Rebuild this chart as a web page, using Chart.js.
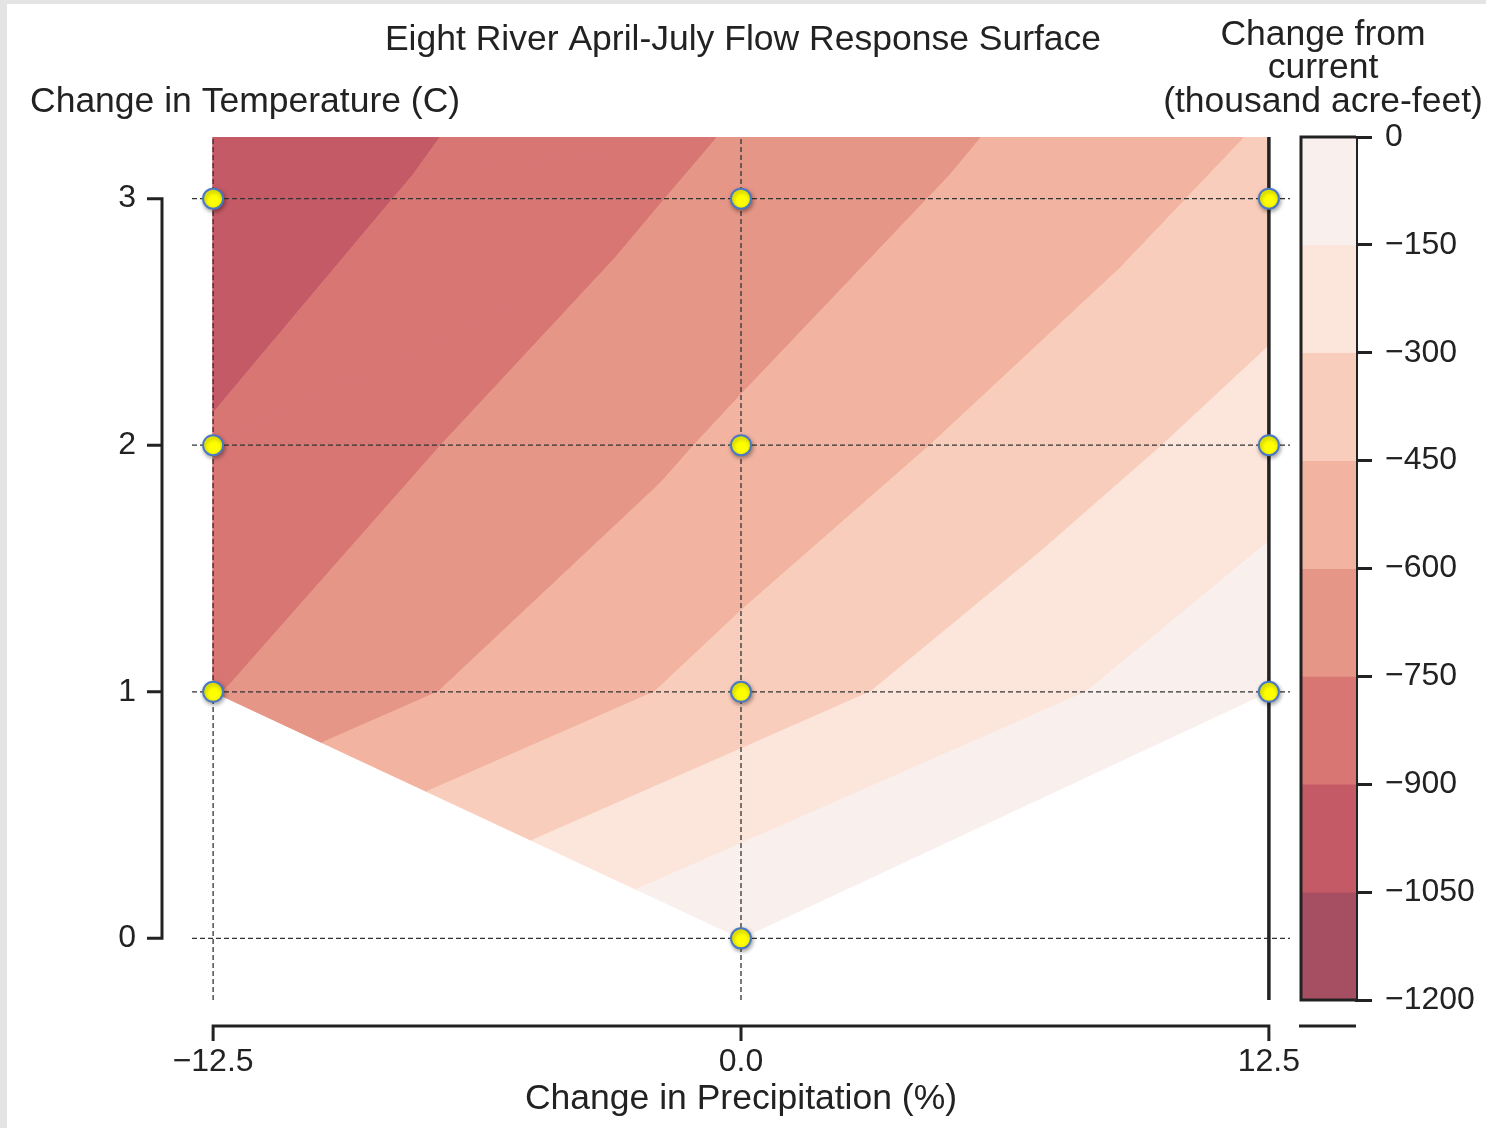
<!DOCTYPE html>
<html>
<head>
<meta charset="utf-8">
<title>Eight River April-July Flow Response Surface</title>
<script src="https://cdn.jsdelivr.net/npm/chart.js@4.4.1/dist/chart.umd.min.js"></script>
<style>
  html, body { margin: 0; padding: 0; background: #ffffff; }
  #wrap { position: relative; width: 1486px; height: 1128px; overflow: hidden; background: #ffffff; }
  #wrap canvas { position: absolute; left: 0; top: 0; }
  .frameL { position: absolute; left: 0; top: 0; width: 7px; height: 1128px; background: #e4e4e4; }
  .frameT { position: absolute; left: 0; top: 0; width: 1486px; height: 4px; background: #e4e4e4; }
</style>
</head>
<body>
<div id="wrap">
  <canvas id="main" width="1486" height="1128"></canvas>
  <canvas id="cbar" width="1486" height="1128"></canvas>
  <div class="frameL"></div>
  <div class="frameT"></div>
</div>
<script>
// ---------------- data ----------------
const chartTitle = 'Eight River April-July Flow Response Surface';
const xTitle = 'Change in Precipitation (%)';
const yTitle = 'Change in Temperature (C)';
const cbarTitle = ['Change from', 'current', '(thousand acre-feet)'];

const precipPct = [-12.5, 0, 12.5];          // x categories (tick labels)
const tempC = [0, 1, 2, 3];                  // y categories (tick labels)

// change in April-July flow (thousand acre-feet) at each precipitation level
const flowAt0C = [null, 0, null];
const flowAt1C = [-756, -390, -23];
const flowAt2C = [-885, -572, -231];
const flowAt3C = [-999, -708, -402];
// surface values read along the upper edge of the plotted surface
const topEdgeTemp = 3.25;
const flowAtTopEdge = [-1023, -737, -436];

const levels = [0, -150, -300, -450, -600, -750, -900, -1050, -1200];   // contour levels / colorbar ticks
const bandColors = ['#f9f0ee', '#fce5db', '#f9cdbb', '#f2b4a0', '#e69686', '#d87674', '#c55a67', '#a64f62'];

const xRange = [-13, 13];
const yRange = [-0.25, 3.25];

// ---------------- style ----------------
const FONT = "'Liberation Sans', Arial, Helvetica, sans-serif";
const TEXT = '#222222';
const AXIS = '#222222';
const fmtNum = v => (v < 0 ? '\u2212' + Math.abs(v) : String(v));
const fmtX = v => (v < 0 ? '\u2212' + Math.abs(v).toFixed(1) : Number(v).toFixed(1));

// ---------------- triangulated filled contours ----------------
const pt = (x, y, z) => ({ x, y, z });
const origin = pt(precipPct[1], tempC[0], flowAt0C[1]);
const rowDefs = [
  { t: tempC[1], v: flowAt1C },
  { t: tempC[2], v: flowAt2C },
  { t: tempC[3], v: flowAt3C },
  { t: topEdgeTemp, v: flowAtTopEdge }
];
const rows = rowDefs.map(r => precipPct.map((p, j) => pt(p, r.t, r.v[j])));
const tris = [];
for (let j = 0; j < precipPct.length - 1; j++) tris.push([origin, rows[0][j], rows[0][j + 1]]);
for (let r = 0; r < rows.length - 1; r++) {
  for (let j = 0; j < precipPct.length - 1; j++) {
    const a = rows[r][j], b = rows[r][j + 1], c = rows[r + 1][j + 1], d = rows[r + 1][j];
    tris.push([a, b, c], [a, c, d]);
  }
}
function clipPoly(poly, f) {
  const out = [];
  for (let i = 0; i < poly.length; i++) {
    const a = poly[i], b = poly[(i + 1) % poly.length];
    const fa = f(a), fb = f(b);
    if (fa >= 0) out.push(a);
    if ((fa >= 0) !== (fb >= 0)) {
      const t = fa / (fa - fb);
      out.push(pt(a.x + t * (b.x - a.x), a.y + t * (b.y - a.y), a.z + t * (b.z - a.z)));
    }
  }
  return out;
}

const datasets = [];

// markers (top-most)
const markerData = [];
[flowAt0C, flowAt1C, flowAt2C, flowAt3C].forEach((row, i) => {
  row.forEach((v, j) => { if (v !== null) markerData.push({ x: precipPct[j], y: tempC[i] }); });
});
datasets.push({
  id: 'markers', type: 'line', data: markerData, showLine: false,
  pointRadius: 10, pointHoverRadius: 10, pointBackgroundColor: '#ffff00',
  pointBorderColor: '#4a78c2', pointBorderWidth: 2, order: 1
});

// dashed reference lines
precipPct.forEach((p, j) => {
  const last = j === precipPct.length - 1;
  datasets.push({
    type: 'line', data: [{ x: p, y: yRange[0] }, { x: p, y: yRange[1] }],
    borderColor: last ? '#222222' : '#333333', borderWidth: last ? 3.5 : 1.3,
    borderDash: last ? [] : [5, 3], pointRadius: 0, fill: false, order: 2
  });
});
tempC.forEach(t => {
  datasets.push({
    type: 'line', data: [{ x: xRange[0], y: t }, { x: xRange[1], y: t }],
    borderColor: '#333333', borderWidth: 1.3, borderDash: [5, 3],
    pointRadius: 0, fill: false, order: 2
  });
});

// filled bands
levels.slice(0, -1).forEach((hi, i) => {
  const lo = levels[i + 1];
  tris.forEach(tri => {
    let poly = clipPoly(tri, q => q.z - lo);
    if (poly.length) poly = clipPoly(poly, q => hi - q.z);
    if (poly.length >= 3) {
      datasets.push({
        type: 'line', data: poly.concat([poly[0]]).map(q => ({ x: q.x, y: q.y })),
        backgroundColor: bandColors[i], borderColor: bandColors[i], borderWidth: 1,
        pointRadius: 0, fill: 'shape', tension: 0, order: 3
      });
    }
  });
});

// ---------------- plugins ----------------
const shadowPlugin = {
  id: 'markerShadow',
  beforeDatasetDraw(chart, args) {
    if (chart.data.datasets[args.index].id === 'markers') {
      const ctx = chart.ctx;
      ctx.save();
      ctx.shadowColor = 'rgba(0,0,0,0.35)';
      ctx.shadowBlur = 4;
      ctx.shadowOffsetX = 1;
      ctx.shadowOffsetY = 2;
    }
  },
  afterDatasetDraw(chart, args) {
    if (chart.data.datasets[args.index].id === 'markers') chart.ctx.restore();
  }
};

const spinePlugin = {
  id: 'spines',
  afterDraw(chart) {
    const { ctx, chartArea, scales: { x, y } } = chart;
    ctx.save();
    ctx.strokeStyle = AXIS;
    ctx.lineWidth = 3;
    ctx.lineCap = 'butt';
    // left spine (offset, trimmed)
    const sx = chartArea.left - 30;
    const yTop = y.getPixelForValue(tempC[tempC.length - 1]);
    const yBot = y.getPixelForValue(tempC[0]);
    ctx.beginPath();
    ctx.moveTo(sx, yTop - 1.5); ctx.lineTo(sx, yBot + 1.5);
    tempC.forEach(t => { const py = y.getPixelForValue(t); ctx.moveTo(sx, py); ctx.lineTo(sx - 15, py); });
    ctx.stroke();
    // bottom spine (offset, trimmed)
    const sy = chartArea.bottom + 26;
    const xL = x.getPixelForValue(precipPct[0]);
    const xR = x.getPixelForValue(precipPct[precipPct.length - 1]);
    ctx.beginPath();
    ctx.moveTo(xL - 1.5, sy); ctx.lineTo(xR + 1.5, sy);
    precipPct.forEach(p => { const px = x.getPixelForValue(p); ctx.moveTo(px, sy); ctx.lineTo(px, sy + 15); });
    ctx.stroke();
    // horizontal y-axis label
    ctx.fillStyle = TEXT;
    ctx.font = '35.5px ' + FONT;
    ctx.textAlign = 'left';
    ctx.textBaseline = 'middle';
    ctx.fillText(yTitle, 30, 102);
    ctx.restore();
  }
};

new Chart(document.getElementById('main'), {
  type: 'line',
  data: { datasets },
  options: {
    responsive: false,
    animation: false,
    events: [],
    layout: { padding: { left: 0, right: 0, top: 0, bottom: 0 } },
    plugins: {
      legend: { display: false },
      tooltip: { enabled: false },
      title: {
        display: true, text: chartTitle, color: TEXT,
        font: { family: FONT, size: 35.5, weight: 'normal' },
        padding: { top: 19, bottom: 75.4 }
      }
    },
    scales: {
      x: {
        type: 'linear', min: xRange[0], max: xRange[1],
        afterBuildTicks: s => { s.ticks = precipPct.map(v => ({ value: v })); },
        afterFit: s => { s.height = 128; },
        grid: { display: false, drawTicks: false },
        border: { display: false },
        ticks: {
          font: { family: FONT, size: 32 }, color: TEXT, padding: 43,
          maxRotation: 0, minRotation: 0, autoSkip: false, callback: v => fmtX(v)
        },
        title: {
          display: true, text: xTitle, color: TEXT,
          font: { family: FONT, size: 35.5 }, padding: { top: 0, bottom: 7 }
        }
      },
      y: {
        type: 'linear', min: yRange[0], max: yRange[1],
        afterBuildTicks: s => { s.ticks = tempC.map(v => ({ value: v })); },
        afterFit: s => { s.width = 192; },
        grid: { display: false, drawTicks: false },
        border: { display: false },
        ticks: { font: { family: FONT, size: 32 }, color: TEXT, padding: 56, autoSkip: false, callback: v => String(v) }
      },
      // empty right-hand axis reserving room for the colorbar
      yRight: {
        type: 'linear', position: 'right', display: true,
        afterFit: s => { s.width = 196; },
        grid: { display: false, drawTicks: false },
        border: { display: false },
        ticks: { display: false }
      }
    }
  },
  plugins: [shadowPlugin, spinePlugin]
});

// ---------------- colorbar ----------------
const cbarPlugin = {
  id: 'cbarOutline',
  afterDraw(chart) {
    const { ctx, chartArea: a } = chart;
    ctx.save();
    ctx.strokeStyle = AXIS;
    ctx.lineWidth = 3;
    ctx.beginPath();
    ctx.moveTo(a.right, a.top); ctx.lineTo(a.left, a.top);
    ctx.lineTo(a.left, a.bottom); ctx.lineTo(a.right, a.bottom);
    ctx.stroke();
    ctx.beginPath();
    ctx.moveTo(a.left - 2, a.bottom + 26); ctx.lineTo(a.right, a.bottom + 26);
    ctx.stroke();
    // colorbar title
    ctx.fillStyle = TEXT;
    ctx.font = '35.5px ' + FONT;
    ctx.textAlign = 'center';
    ctx.textBaseline = 'middle';
    cbarTitle.forEach((line, i) => ctx.fillText(line, 1323, 35 + i * 33.5));
    ctx.restore();
  }
};

new Chart(document.getElementById('cbar'), {
  type: 'bar',
  data: {
    labels: [''],
    datasets: bandColors.map((c, i) => ({
      data: [[levels[i + 1], levels[i]]],
      backgroundColor: c, borderWidth: 0,
      barPercentage: 1, categoryPercentage: 1, grouped: false
    }))
  },
  options: {
    responsive: false,
    animation: false,
    events: [],
    layout: { padding: { left: 1301, right: 0, top: 137, bottom: 128 } },
    plugins: { legend: { display: false }, tooltip: { enabled: false }, title: { display: false } },
    scales: {
      x: { display: false },
      y: {
        position: 'right', min: levels[levels.length - 1], max: levels[0],
        afterBuildTicks: s => { s.ticks = levels.map(v => ({ value: v })); },
        afterFit: s => { s.width = 130; },
        grid: { drawOnChartArea: false, drawTicks: true, tickLength: 16, lineWidth: 3, color: AXIS },
        border: { display: true, width: 3, color: AXIS },
        ticks: { font: { family: FONT, size: 32 }, color: TEXT, padding: 13, autoSkip: false, callback: v => fmtNum(v) }
      }
    }
  },
  plugins: [cbarPlugin]
});
</script>
</body>
</html>
